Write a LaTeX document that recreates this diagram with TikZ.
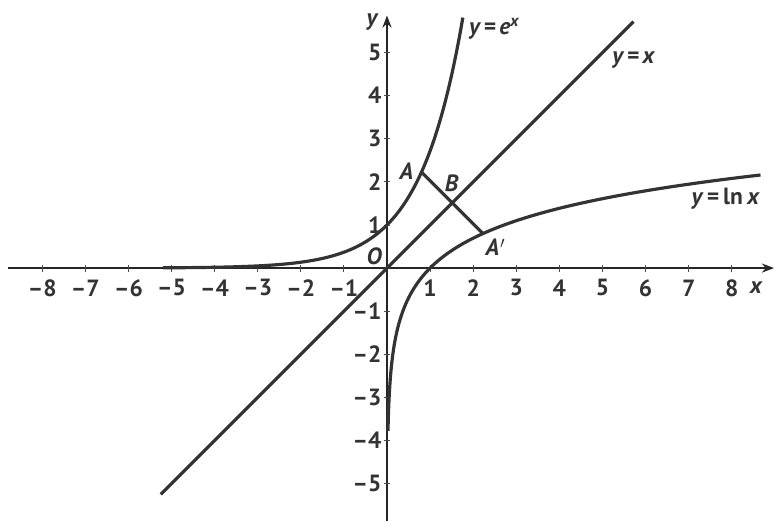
\documentclass[tikz,border=0pt]{standalone}
\usepackage{fontspec}
\setmainfont{PT Sans}
\usetikzlibrary{arrows.meta}
\begin{document}
\begin{tikzpicture}[x=1cm,y=1cm,
  axis/.style={line width=1.2pt,draw=black!85,-{Stealth[length=8pt,width=6pt]}},
  curve/.style={line width=2.1pt,draw=black!80},
  tick/.style={line width=0.6pt,draw=black!70},
  lbl/.style={font=\fontsize{15.5}{17}\selectfont\bfseries,text=black!80,inner sep=0pt},
  ptlbl/.style={font=\fontsize{15.5}{17}\selectfont\bfseries\itshape,text=black!80,inner sep=0pt}]
\useasboundingbox (-8.98,-5.87) rectangle (8.98,6.22);
% axes
\coordinate (xs) at (-8.8,0);
\coordinate (xe) at (8.98,0);
\coordinate (ys) at (0,-5.87);
\coordinate (ye) at (0,5.86);
\draw[axis] (xs) -- (xe);
\draw[axis] (ys) -- (ye);
% ticks
\foreach \i in {-8,...,-1,1,2,...,8} {
  \draw[tick] (\i,-0.08) -- (\i,0.08);
  \node[lbl] at (\i,-0.46) {\ifnum\i<0 –\the\numexpr-\i\relax\else\i\fi};
}
\foreach \j in {-5,...,-1,1,2,...,5} {
  \draw[tick] (-0.08,\j) -- (0.08,\j);
  \node[lbl,anchor=east] at (-0.12,\j) {\ifnum\j<0 –\the\numexpr-\j\relax\else\j\fi};
}
\node[ptlbl] (ylab) at (-0.35,5.72) {y};
\node[ptlbl] (xlab) at (8.56,-0.46) {x};
\node[ptlbl] (O) at (-0.3,0.27) {O};
% curves
\draw[curve] plot[domain=-5.2:1.76,samples=120,smooth] (\x,{exp(\x)});
\draw[curve] plot[domain=-3.78:2.16,samples=120,smooth] ({exp(\x)},\x);
\draw[curve] (-5.25,-5.25) -- (5.72,5.72);
% points
\coordinate (A) at (0.8,2.2255);
\coordinate (Ap) at (2.2255,0.8);
\coordinate (B) at (1.5128,1.5128);
\draw[curve] (A) -- (B) -- (Ap);
\node[ptlbl] (Al) at (0.45,2.25) {A};
\node[ptlbl] (Bl) at (1.5,1.97) {B};
\node[ptlbl] (Apl) at (2.52,0.48) {A\kern0.5pt$'$};
% labels
\node[ptlbl,anchor=west] (ex) at (1.9,5.55) {y\,=\,e\textsuperscript{x}};
\node[ptlbl,anchor=west] (yx) at (5.22,4.82) {y\,=\,x};
\node[ptlbl,anchor=west] (lnx) at (7.06,1.62) {y\kern3pt=\kern3pt\textup{ln}\kern3pt x};
\end{tikzpicture}
\end{document}
